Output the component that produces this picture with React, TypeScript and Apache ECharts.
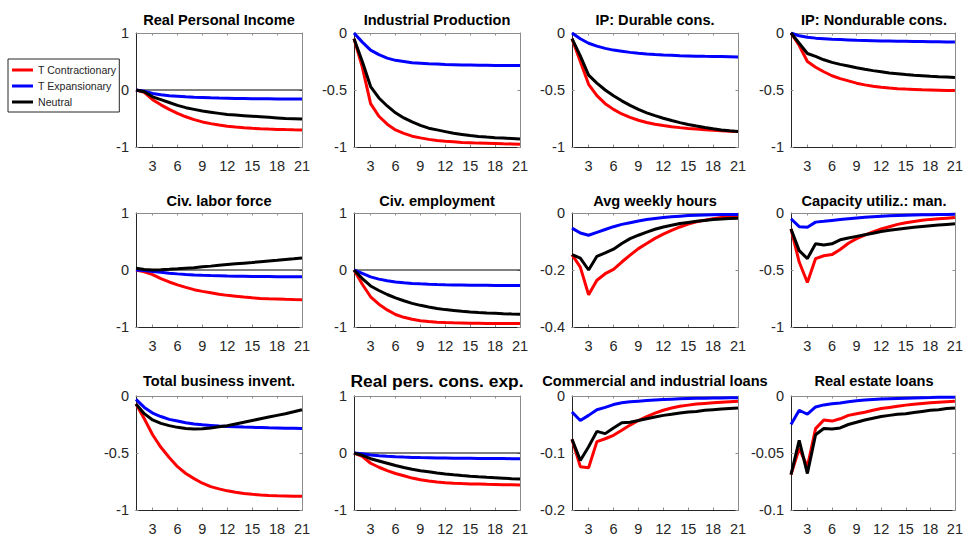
import { useEffect, useRef } from 'react';
import * as echarts from 'echarts';

// ---------- data ----------
const horizons = [1, 2, 3, 4, 5, 6, 7, 8, 9, 10, 11, 12, 13, 14, 15, 16, 17, 18, 19, 20, 21];
const xTickValues = [3, 6, 9, 12, 15, 18, 21];
const seriesNames = ['T Contractionary', 'T Expansionary', 'Neutral'];

const titles = [
  'Real Personal Income', 'Industrial Production', 'IP: Durable cons.', 'IP: Nondurable cons.',
  'Civ. labor force', 'Civ. employment', 'Avg weekly hours', 'Capacity utiliz.: man.',
  'Total business invent.', 'Real pers. cons. exp.', 'Commercial and industrial loans', 'Real estate loans',
];
const yMins = [-1, -1, -1, -1, -1, -1, -0.4, -1, -1, -1, -0.2, -0.1];
const yMaxs = [1, 0, 0, 0, 1, 1, 0, 0, 0, 1, 0, 0];
const yIntervals = [1, 0.5, 0.5, 0.5, 1, 1, 0.2, 0.5, 0.5, 1, 0.1, 0.05];
const zeroLinePanels = [0, 4, 5, 9];

// Real Personal Income
const rpiRed = [0, -0.04, -0.17, -0.26, -0.34, -0.41, -0.47, -0.52, -0.56, -0.59, -0.615, -0.635, -0.65, -0.662, -0.672, -0.68, -0.686, -0.691, -0.695, -0.698, -0.7];
const rpiBlue = [0, -0.02, -0.06, -0.085, -0.1, -0.11, -0.12, -0.128, -0.133, -0.138, -0.142, -0.145, -0.148, -0.15, -0.152, -0.154, -0.155, -0.156, -0.157, -0.158, -0.16];
const rpiBlack = [0, -0.03, -0.12, -0.17, -0.22, -0.27, -0.31, -0.34, -0.37, -0.39, -0.41, -0.43, -0.44, -0.45, -0.46, -0.47, -0.48, -0.49, -0.5, -0.505, -0.51];
// Industrial Production
const ipRed = [-0.05, -0.3, -0.62, -0.73, -0.8, -0.85, -0.88, -0.905, -0.92, -0.933, -0.943, -0.95, -0.955, -0.96, -0.963, -0.966, -0.968, -0.97, -0.972, -0.973, -0.975];
const ipBlue = [0, -0.08, -0.15, -0.19, -0.22, -0.24, -0.25, -0.26, -0.265, -0.27, -0.273, -0.276, -0.278, -0.28, -0.281, -0.282, -0.283, -0.284, -0.285, -0.285, -0.285];
const ipBlack = [-0.05, -0.25, -0.47, -0.57, -0.64, -0.7, -0.745, -0.78, -0.81, -0.835, -0.85, -0.865, -0.88, -0.89, -0.9, -0.907, -0.913, -0.918, -0.922, -0.926, -0.93];
// IP: Durable cons.
const durRed = [-0.05, -0.25, -0.45, -0.55, -0.62, -0.67, -0.71, -0.74, -0.765, -0.785, -0.8, -0.812, -0.822, -0.83, -0.837, -0.843, -0.849, -0.854, -0.858, -0.862, -0.865];
const durBlue = [0, -0.05, -0.09, -0.115, -0.135, -0.15, -0.16, -0.17, -0.178, -0.184, -0.189, -0.193, -0.196, -0.199, -0.201, -0.203, -0.205, -0.206, -0.207, -0.208, -0.21];
const durBlack = [-0.05, -0.2, -0.37, -0.44, -0.5, -0.55, -0.595, -0.635, -0.67, -0.7, -0.725, -0.748, -0.768, -0.786, -0.802, -0.816, -0.829, -0.84, -0.85, -0.858, -0.865];
// IP: Nondurable cons.
const ndRed = [0, -0.11, -0.25, -0.3, -0.34, -0.375, -0.4, -0.42, -0.44, -0.455, -0.467, -0.476, -0.483, -0.488, -0.492, -0.495, -0.498, -0.5, -0.502, -0.504, -0.505];
const ndBlue = [0, -0.025, -0.037, -0.045, -0.05, -0.055, -0.058, -0.061, -0.064, -0.066, -0.068, -0.07, -0.071, -0.072, -0.073, -0.074, -0.075, -0.076, -0.077, -0.078, -0.079];
const ndBlack = [0, -0.09, -0.18, -0.205, -0.235, -0.258, -0.275, -0.29, -0.305, -0.318, -0.33, -0.34, -0.35, -0.357, -0.364, -0.37, -0.375, -0.38, -0.384, -0.387, -0.39];
// Civ. labor force
const lfRed = [0, -0.03, -0.08, -0.15, -0.21, -0.26, -0.305, -0.345, -0.375, -0.4, -0.425, -0.445, -0.46, -0.475, -0.488, -0.498, -0.505, -0.51, -0.515, -0.518, -0.52];
const lfBlue = [0, -0.01, -0.025, -0.04, -0.055, -0.068, -0.078, -0.086, -0.093, -0.098, -0.102, -0.106, -0.109, -0.111, -0.113, -0.115, -0.116, -0.117, -0.118, -0.119, -0.12];
const lfBlack = [0.03, 0.01, 0, 0.005, 0.012, 0.02, 0.03, 0.04, 0.055, 0.068, 0.082, 0.095, 0.108, 0.12, 0.132, 0.145, 0.158, 0.17, 0.183, 0.196, 0.21];
// Civ. employment
const empRed = [0, -0.25, -0.47, -0.6, -0.7, -0.78, -0.83, -0.865, -0.89, -0.905, -0.915, -0.922, -0.927, -0.93, -0.933, -0.935, -0.937, -0.938, -0.939, -0.94, -0.94];
const empBlue = [0, -0.06, -0.12, -0.16, -0.19, -0.21, -0.225, -0.235, -0.243, -0.25, -0.255, -0.259, -0.262, -0.264, -0.266, -0.268, -0.269, -0.27, -0.271, -0.272, -0.273];
const empBlack = [0, -0.15, -0.28, -0.36, -0.43, -0.49, -0.54, -0.585, -0.62, -0.65, -0.675, -0.695, -0.71, -0.725, -0.737, -0.746, -0.754, -0.76, -0.766, -0.771, -0.775];
// Avg weekly hours
const hrsRed = [-0.146, -0.19, -0.287, -0.236, -0.213, -0.198, -0.172, -0.148, -0.125, -0.107, -0.089, -0.074, -0.061, -0.049, -0.039, -0.031, -0.025, -0.02, -0.016, -0.014, -0.012];
const hrsBlue = [-0.053, -0.07, -0.078, -0.068, -0.058, -0.048, -0.04, -0.034, -0.028, -0.023, -0.019, -0.016, -0.013, -0.011, -0.009, -0.008, -0.007, -0.006, -0.0055, -0.005, -0.005];
const hrsBlack = [-0.146, -0.158, -0.2, -0.152, -0.14, -0.127, -0.107, -0.09, -0.078, -0.067, -0.057, -0.049, -0.043, -0.037, -0.033, -0.029, -0.026, -0.023, -0.021, -0.019, -0.018];
// Capacity utiliz.: man.
const cuRed = [-0.14, -0.43, -0.61, -0.4, -0.375, -0.365, -0.32, -0.265, -0.225, -0.195, -0.165, -0.14, -0.12, -0.1, -0.085, -0.074, -0.064, -0.056, -0.05, -0.045, -0.04];
const cuBlue = [-0.05, -0.12, -0.125, -0.08, -0.073, -0.065, -0.057, -0.05, -0.043, -0.038, -0.033, -0.029, -0.025, -0.022, -0.02, -0.018, -0.016, -0.015, -0.014, -0.013, -0.012];
const cuBlack = [-0.14, -0.33, -0.4, -0.27, -0.28, -0.27, -0.235, -0.22, -0.205, -0.19, -0.178, -0.163, -0.152, -0.142, -0.133, -0.126, -0.119, -0.112, -0.106, -0.1, -0.095];
// Total business invent.
const invRed = [-0.07, -0.2, -0.34, -0.45, -0.54, -0.62, -0.68, -0.725, -0.765, -0.795, -0.815, -0.832, -0.845, -0.855, -0.862, -0.868, -0.872, -0.875, -0.877, -0.879, -0.88];
const invBlue = [-0.03, -0.1, -0.15, -0.18, -0.205, -0.22, -0.235, -0.245, -0.253, -0.258, -0.263, -0.267, -0.27, -0.273, -0.275, -0.277, -0.279, -0.28, -0.282, -0.283, -0.285];
const invBlack = [-0.07, -0.155, -0.21, -0.24, -0.26, -0.275, -0.285, -0.29, -0.288, -0.28, -0.27, -0.26, -0.245, -0.23, -0.215, -0.2, -0.185, -0.17, -0.155, -0.138, -0.12];
// Real pers. cons. exp.
const pceRed = [0, -0.06, -0.18, -0.25, -0.31, -0.36, -0.4, -0.44, -0.47, -0.49, -0.507, -0.52, -0.53, -0.537, -0.542, -0.546, -0.55, -0.553, -0.556, -0.558, -0.56];
const pceBlue = [0, -0.015, -0.035, -0.048, -0.058, -0.066, -0.072, -0.077, -0.081, -0.084, -0.087, -0.089, -0.091, -0.093, -0.094, -0.095, -0.096, -0.097, -0.098, -0.099, -0.1];
const pceBlack = [0, -0.04, -0.1, -0.14, -0.18, -0.22, -0.255, -0.285, -0.31, -0.33, -0.35, -0.368, -0.383, -0.396, -0.407, -0.417, -0.426, -0.434, -0.442, -0.45, -0.457];
// Commercial and industrial loans
const ciRed = [-0.076, -0.124, -0.126, -0.08, -0.075, -0.069, -0.06, -0.051, -0.043, -0.036, -0.03, -0.025, -0.021, -0.018, -0.016, -0.014, -0.013, -0.012, -0.011, -0.01, -0.009];
const ciBlue = [-0.028, -0.043, -0.034, -0.024, -0.02, -0.015, -0.012, -0.01, -0.009, -0.008, -0.007, -0.006, -0.0055, -0.005, -0.0045, -0.004, -0.0038, -0.0035, -0.0033, -0.003, -0.003];
const ciBlack = [-0.076, -0.113, -0.089, -0.062, -0.066, -0.056, -0.047, -0.046, -0.043, -0.04, -0.037, -0.034, -0.032, -0.03, -0.028, -0.027, -0.025, -0.024, -0.023, -0.022, -0.021];
// Real estate loans
const reRed = [-0.069, -0.046, -0.062, -0.0286, -0.021, -0.022, -0.02, -0.017, -0.0155, -0.0142, -0.0125, -0.011, -0.01, -0.009, -0.008, -0.0073, -0.0066, -0.006, -0.0055, -0.005, -0.0047];
const reBlue = [-0.025, -0.0125, -0.016, -0.0096, -0.0078, -0.0068, -0.0062, -0.005, -0.0042, -0.0036, -0.0031, -0.0027, -0.0024, -0.0021, -0.0019, -0.0017, -0.0015, -0.0014, -0.0012, -0.0011, -0.001];
const reBlack = [-0.069, -0.039, -0.068, -0.034, -0.0285, -0.029, -0.028, -0.025, -0.023, -0.021, -0.0195, -0.018, -0.017, -0.016, -0.0155, -0.0145, -0.0135, -0.0125, -0.012, -0.011, -0.0105];

const redSeries = [rpiRed, ipRed, durRed, ndRed, lfRed, empRed, hrsRed, cuRed, invRed, pceRed, ciRed, reRed];
const blueSeries = [rpiBlue, ipBlue, durBlue, ndBlue, lfBlue, empBlue, hrsBlue, cuBlue, invBlue, pceBlue, ciBlue, reBlue];
const blackSeries = [rpiBlack, ipBlack, durBlack, ndBlack, lfBlack, empBlack, hrsBlack, cuBlack, invBlack, pceBlack, ciBlack, reBlack];

// ---------- layout / style ----------
const FONT = "'Liberation Sans', Arial, Helvetica, sans-serif";
const LABEL_COLOR = '#262626';
const DARK_FRAME = '#262626';
const LIGHT_FRAME = '#8c8c8c';
const COLORS = ['#ff0000', '#0000ff', '#000000'];
const GRID_LEFTS = [136, 354, 572, 791];
const GRID_TOPS = [33, 213, 396];
const GRID_W = 166;
const GRID_H = 114;
const TITLE_Y = [20, 201, 381];

const fmt = (v: number) => String(parseFloat(v.toFixed(4)));

export default function App() {
  const ref = useRef<HTMLDivElement>(null);
  useEffect(() => {
    const chart = echarts.init(ref.current!, null, { renderer: 'svg' });
    const grid: any[] = [];
    const xAxis: any[] = [];
    const yAxis: any[] = [];
    const series: any[] = [];
    const graphic: any[] = [];

    titles.forEach((title, k) => {
      const col = k % 4;
      const row = Math.floor(k / 4);
      grid.push({ left: GRID_LEFTS[col], top: GRID_TOPS[row], width: GRID_W, height: GRID_H, show: false });

      const xi = xAxis.length;
      xAxis.push({
        gridIndex: k, type: 'value', min: 1, max: 21, position: 'bottom',
        axisLine: { show: true, onZero: false, lineStyle: { color: DARK_FRAME, width: 1 } },
        axisTick: { show: true, inside: true, length: 2.5, customValues: xTickValues, lineStyle: { color: LIGHT_FRAME } },
        axisLabel: { show: true, customValues: xTickValues, margin: 11.5, color: LABEL_COLOR, fontSize: 14.5, fontFamily: FONT, formatter: fmt },
        splitLine: { show: false },
      });
      xAxis.push({
        gridIndex: k, type: 'value', min: 1, max: 21, position: 'top',
        axisLine: { show: true, onZero: false, lineStyle: { color: LIGHT_FRAME, width: 1 } },
        axisTick: { show: true, inside: true, length: 2.5, customValues: xTickValues, lineStyle: { color: LIGHT_FRAME } },
        axisLabel: { show: false },
        splitLine: { show: false },
      });
      const yi = yAxis.length;
      yAxis.push({
        gridIndex: k, type: 'value', min: yMins[k], max: yMaxs[k], interval: yIntervals[k], position: 'left',
        axisLine: { show: true, onZero: false, lineStyle: { color: DARK_FRAME, width: 1 } },
        axisTick: { show: true, inside: true, length: 2.5, lineStyle: { color: LIGHT_FRAME } },
        axisLabel: { show: true, margin: 7, color: LABEL_COLOR, fontSize: 14.5, fontFamily: FONT, formatter: fmt },
        splitLine: { show: false },
      });
      yAxis.push({
        gridIndex: k, type: 'value', min: yMins[k], max: yMaxs[k], interval: yIntervals[k], position: 'right',
        axisLine: { show: true, onZero: false, lineStyle: { color: LIGHT_FRAME, width: 1 } },
        axisTick: { show: true, inside: true, length: 2.5, lineStyle: { color: LIGHT_FRAME } },
        axisLabel: { show: false },
        splitLine: { show: false },
      });

      if (zeroLinePanels.includes(k)) {
        series.push({
          type: 'line', name: 'zero', xAxisIndex: xi, yAxisIndex: yi, silent: true,
          data: [[horizons[0], 0], [horizons[horizons.length - 1], 0]],
          symbol: 'none', lineStyle: { color: '#000', width: 1 }, z: 1,
        });
      }
      [redSeries[k], blueSeries[k], blackSeries[k]].forEach((vals, s) => {
        series.push({
          type: 'line', name: seriesNames[s], xAxisIndex: xi, yAxisIndex: yi,
          data: vals.map((v, i) => [horizons[i], v]),
          symbol: 'none', color: COLORS[s],
          lineStyle: { color: COLORS[s], width: 3 }, z: 2 + s,
        });
      });

      const big = k === 9;
      graphic.push({
        type: 'text', x: GRID_LEFTS[col] + GRID_W / 2, y: TITLE_Y[row],
        style: {
          text: title, fill: '#000', fontFamily: FONT, fontWeight: 'bold',
          fontSize: big ? 17.4 : 14.6, align: 'center', verticalAlign: 'middle',
        },
      });
    });

    chart.setOption({
      animation: false,
      backgroundColor: '#ffffff',
      grid, xAxis, yAxis, series, graphic,
      legend: {
        data: seriesNames, orient: 'vertical', left: 8, top: 59,
        icon: 'rect', itemWidth: 21, itemHeight: 3, itemGap: 4,
        padding: [5, 3, 4, 4], borderColor: '#262626', borderWidth: 1,
        textStyle: { fontSize: 10.6, fontFamily: FONT, color: '#262626', lineHeight: 12 },
        selectedMode: false,
      },
    });
    return () => chart.dispose();
  }, []);
  return <div ref={ref} style={{ position: 'fixed', left: 0, top: 0, width: 966, height: 537 }} />;
}
